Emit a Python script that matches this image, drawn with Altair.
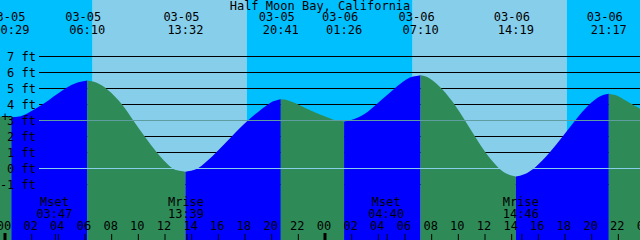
import altair as alt
import pandas as pd

TITLE = "Half Moon Bay, California"

# Tide extremes
ext_date = ["03-05", "03-05", "03-05", "03-05", "03-06", "03-06", "03-06", "03-06"]
ext_time = ["00:29", "06:10", "13:32", "20:41", "01:26", "07:10", "14:19", "21:17"]
ext_ft = [3.2, 5.5, -0.2, 4.33, 2.94, 5.83, -0.5, 4.67]

# Curve readings between extremes (hours from 03-05 00:00, feet)
curve_hour = [-0.375, 1.1, 1.5, 2.9, 4.4, 5.6,
              6.8, 7.67, 8.85, 9.6, 10.48, 11.35, 12.47, 12.9,
              14.1, 14.6, 15.85, 17.0, 18.15, 19.7, 20.1,
              21.2, 21.6, 22.65, 23.625, 24.6, 24.9,
              26.1, 27.0, 27.85, 29.2, 30.15, 30.6,
              31.8, 32.8, 33.75, 34.5, 35.25, 36.0, 37.0, 37.7,
              38.9, 39.75, 40.875, 41.83, 42.75, 43.75, 44.7,
              45.8, 46.125, 47.625]
curve_ft = [3.25, 3.24, 3.35, 4.0, 5.0, 5.45,
            5.43, 5.0, 4.0, 3.0, 2.0, 1.0, 0.0, -0.12,
            -0.12, 0.02, 1.0, 2.0, 3.0, 4.0, 4.22,
            4.28, 4.15, 3.73, 3.37, 3.06, 2.99,
            3.04, 3.37, 4.0, 5.0, 5.62, 5.76,
            5.74, 5.0, 4.0, 3.0, 2.0, 1.0, 0.0, -0.4,
            -0.42, 0.0, 1.0, 2.0, 3.0, 4.0, 4.6,
            4.6, 4.46, 3.73]

# Sun: day / night spans (hours)
sky_start = [-0.375, 6.575, 18.125, 30.575, 42.125]
sky_end = [6.575, 18.125, 30.575, 42.125, 47.625]
sky_kind = ["night", "day", "night", "day", "night"]

# Moon events
moon_event = ["Mset", "Mrise", "Mset", "Mrise"]
moon_date = ["03-05", "03-05", "03-06", "03-06"]
moon_time = ["03:47", "13:39", "04:40", "14:46"]

# Hour axis
hour_values = list(range(0, 49, 2))
hour_labels = ["%02d" % (h % 24) for h in hour_values]

# Height levels
level_ft = [-1, 0, 1, 2, 3, 4, 5, 6, 7]
level_labels = ["%d ft" % v for v in level_ft]

X0, X1 = -0.375, 47.625
Y0, Y1 = -4.46875, 10.53125
FONT = "DejaVu Sans Mono"


def to_hours(d, t):
    day = 0 if d == "03-05" else 24
    hh, mm = t.split(":")
    return day + int(hh) + int(mm) / 60.0


ext_hour = [to_hours(d, t) for d, t in zip(ext_date, ext_time)]

pts = sorted(list(zip(curve_hour, curve_ft)) + list(zip(ext_hour, ext_ft)))
bounds = [X0] + ext_hour + [X1]
rows = []
for i in range(len(bounds) - 1):
    a, b = bounds[i], bounds[i + 1]
    seg = [(h, f) for h, f in pts if a - 1e-9 <= h <= b + 1e-9]
    kind = "rise" if seg[-1][1] > seg[0][1] else "fall"
    for h, f in seg:
        rows.append({"h": h, "ft": f, "seg": i, "kind": kind})
water_df = pd.DataFrame(rows)

xs = alt.Scale(domain=[X0, X1], nice=False, zero=False)
ys = alt.Scale(domain=[Y0, Y1], nice=False, zero=False)

sky_df = pd.DataFrame({"s": sky_start, "e": sky_end, "kind": sky_kind})
sky = alt.Chart(sky_df).mark_rect().encode(
    x=alt.X("s:Q", scale=xs, axis=None),
    x2="e:Q",
    y=alt.value(0),
    y2=alt.value(240),
    color=alt.Color("kind:N", scale=alt.Scale(domain=["day", "night"], range=["#87CEEB", "#00BFFF"]), legend=None),
)

black_df = pd.DataFrame({"ft": [v for v in level_ft if v not in (0, 3)]})
black_lines = alt.Chart(black_df).mark_rule(color="black", strokeWidth=1).encode(
    y=alt.Y("ft:Q", scale=ys, axis=None),
    x=alt.value(39),
    x2=alt.value(640),
)

water = alt.Chart(water_df).mark_area(interpolate="basis", opacity=1).encode(
    x=alt.X("h:Q", scale=xs, axis=None),
    y=alt.Y("ft:Q", scale=ys, axis=None, stack=None),
    y2=alt.datum(Y0),
    detail="seg:N",
    color=alt.Color("kind:N", scale=alt.Scale(domain=["rise", "fall"], range=["#0000FF", "#2E8B57"]), legend=None),
)

mark_df = pd.DataFrame({"ft": [3, 0], "kind": ["msl", "datum"]})
mark_lines = alt.Chart(mark_df).mark_rule(strokeWidth=1).encode(
    y=alt.Y("ft:Q", scale=ys, axis=None),
    x=alt.value(39),
    x2=alt.value(640),
    color=alt.Color("kind:N", scale=alt.Scale(domain=["msl", "datum"], range=["#5F9EA0", "#87CEEB"]), legend=None),
)

lab_df = pd.DataFrame({"ft": level_ft, "t": level_labels})
ylabels = alt.Chart(lab_df).mark_text(font=FONT, fontSize=12, align="right", baseline="alphabetic", dy=4, color="black").encode(
    y=alt.Y("ft:Q", scale=ys, axis=None),
    x=alt.value(36),
    text="t:N",
)

plus = alt.Chart(pd.DataFrame({"t": ["+"], "ft": [3]})).mark_text(font=FONT, fontSize=12, align="center", baseline="alphabetic", dy=0, color="black").encode(
    y=alt.Y("ft:Q", scale=ys, axis=None),
    x=alt.value(5),
    text="t:N",
)

title = alt.Chart(pd.DataFrame({"t": [TITLE]})).mark_text(font=FONT, fontSize=12, align="center", baseline="alphabetic", color="black").encode(
    x=alt.value(320), y=alt.value(10), text="t:N"
)

ev_df = pd.DataFrame({"h": ext_hour, "d": ext_date, "t": ext_time})
ev_date = alt.Chart(ev_df).mark_text(font=FONT, fontSize=12, align="center", baseline="alphabetic", dx=-4, color="black").encode(
    x=alt.X("h:Q", scale=xs, axis=None), y=alt.value(21), text="d:N"
)
ev_time = alt.Chart(ev_df).mark_text(font=FONT, fontSize=12, align="center", baseline="alphabetic", dx=0, color="black").encode(
    x=alt.X("h:Q", scale=xs, axis=None), y=alt.value(34), text="t:N"
)

moon_df = pd.DataFrame({
    "h": [to_hours(d, t) for d, t in zip(moon_date, moon_time)],
    "e": moon_event,
    "t": moon_time,
})
moon_e = alt.Chart(moon_df).mark_text(font=FONT, fontSize=12, align="center", baseline="alphabetic", dx=-1, color="black").encode(
    x=alt.X("h:Q", scale=xs, axis=None), y=alt.value(206), text="e:N"
)
moon_t = alt.Chart(moon_df).mark_text(font=FONT, fontSize=12, align="center", baseline="alphabetic", dx=-1, color="black").encode(
    x=alt.X("h:Q", scale=xs, axis=None), y=alt.value(218), text="t:N"
)
moon_ticks = alt.Chart(moon_df).mark_rule(color="black", strokeWidth=1).encode(
    x=alt.X("h:Q", scale=xs, axis=None), y=alt.value(234), y2=alt.value(240)
)

hr_df = pd.DataFrame({"h": hour_values, "t": hour_labels, "mid": [int(h % 24 == 0) for h in hour_values]})
hr_text = alt.Chart(hr_df).mark_text(font=FONT, fontSize=12, align="center", baseline="alphabetic", dx=-1, color="black").encode(
    x=alt.X("h:Q", scale=xs, axis=None), y=alt.value(230), text="t:N"
)
hr_ticks = alt.Chart(hr_df).transform_filter("datum.mid == 0").mark_rule(color="black", strokeWidth=1).encode(
    x=alt.X("h:Q", scale=xs, axis=None), y=alt.value(234), y2=alt.value(240)
)
mid_ticks = alt.Chart(hr_df).transform_filter("datum.mid == 1").mark_rule(color="black", strokeWidth=3).encode(
    x=alt.X("h:Q", scale=xs, axis=None), y=alt.value(233), y2=alt.value(240)
)

chart = alt.layer(
    sky, black_lines, water, mark_lines, ylabels, plus, title, ev_date, ev_time,
    moon_e, moon_t, moon_ticks, hr_text, hr_ticks, mid_ticks,
).resolve_scale(color="independent").properties(
    width=640, height=240, padding=0, autosize=alt.AutoSizeParams(type="none")
).configure_view(stroke=None)

chart.save("out.html", embed_options={"renderer": "svg", "actions": False})
